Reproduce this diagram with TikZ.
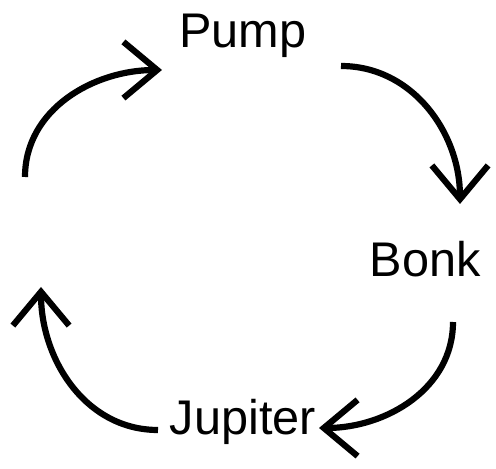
\documentclass[tikz,border=0pt]{standalone}
\usepackage{fontspec}
\setmainfont{Liberation Sans}
\usetikzlibrary{arrows.meta}

\begin{document}
\begin{tikzpicture}[x=0.025cm,y=0.025cm,
    cyclearrow/.style={line width=4.4pt,-{Straight Barb[length=24pt,width=40pt]}},
    steplabel/.style={anchor=base,inner sep=0pt,font=\fontsize{34.6}{40}\selectfont}]
  % frame
  \useasboundingbox (0,0) rectangle (496,469);
  % labels
  \node[steplabel] (pump) at (243,421) {Pump};
  \node[steplabel] (bonk) at (425,192) {Bonk};
  \node[steplabel] (jupiter) at (243,34) {Jupiter};
  % arrow ends
  \coordinate (a1s) at (25,292);
  \coordinate (a1e) at (162,399);
  \coordinate (a2s) at (341,403);
  \coordinate (a2e) at (460,265);
  \coordinate (a3s) at (453,147);
  \coordinate (a3e) at (319,41);
  \coordinate (a4s) at (158,39);
  \coordinate (a4e) at (41,182);
  % arrows
  \draw[cyclearrow] (a1s) to[out=90,in=180] (a1e);
  \draw[cyclearrow] (a2s) to[out=0,in=90] (a2e);
  \draw[cyclearrow] (a3s) to[out=-90,in=0] (a3e);
  \draw[cyclearrow] (a4s) to[out=180,in=-90] (a4e);
\end{tikzpicture}
\end{document}
